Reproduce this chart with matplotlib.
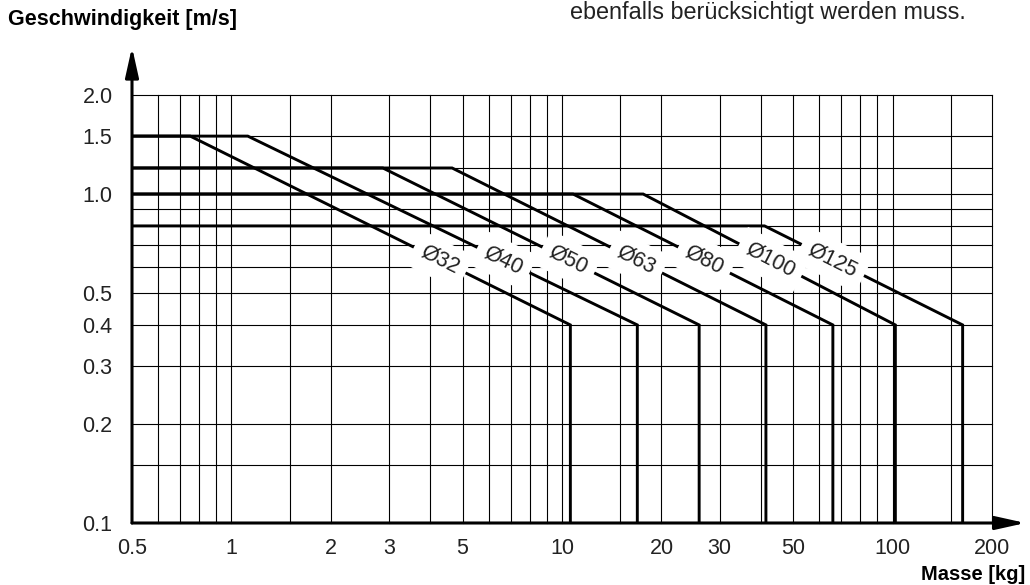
import numpy as np
import matplotlib
matplotlib.use('Agg')
import matplotlib.pyplot as plt
from matplotlib.ticker import NullLocator

plt.rcParams['font.family'] = ['Liberation Sans', 'DejaVu Sans']

# cylinder sizes and their speed/mass limits
labels = ['Ø32', 'Ø40', 'Ø50', 'Ø63', 'Ø80', 'Ø100', 'Ø125']
v_max = [1.5, 1.5, 1.2, 1.2, 1.0, 1.0, 0.8]          # m/s, flat part
m_knee = [0.75, 1.12, 2.87, 4.65, 10.8, 17.6, 41.0]  # kg, where it starts falling
m_end = [10.6, 16.9, 26.0, 41.4, 66.0, 102.0, 163.0] # kg, at v = 0.4
v_end = 0.4
v_min = 0.1

x_ticks = [0.5, 1, 2, 3, 5, 10, 20, 30, 50, 100, 200]
x_ticklabels = ['0.5', '1', '2', '3', '5', '10', '20', '30', '50', '100', '200']
y_ticks = [0.1, 0.2, 0.3, 0.4, 0.5, 1.0, 1.5, 2.0]
y_ticklabels = ['0.1', '0.2', '0.3', '0.4', '0.5', '1.0', '1.5', '2.0']

x_grid = [0.6, 0.7, 0.8, 0.9, 1, 1.5, 2, 3, 4, 5, 6, 7, 8, 9, 10, 15, 20, 30,
          40, 50, 60, 70, 80, 90, 100, 150, 200]
y_grid = [0.15, 0.2, 0.3, 0.4, 0.5, 0.6, 0.7, 0.8, 0.9, 1.0, 1.2, 1.5, 2.0]

fig = plt.figure(figsize=(10.3, 5.85), dpi=100)
ax = fig.add_axes([132 / 1030, 1 - 523 / 585, 860 / 1030, 428 / 585])
ax.set_xscale('log')
ax.set_yscale('log')
ax.set_xlim(0.5, 200)
ax.set_ylim(0.1, 2.0)
for s in ax.spines.values():
    s.set_visible(False)

ax.xaxis.set_minor_locator(NullLocator())
ax.yaxis.set_minor_locator(NullLocator())
ax.set_xticks(x_ticks)
ax.set_xticklabels(x_ticklabels)
ax.set_yticks(y_ticks)
ax.set_yticklabels(y_ticklabels)
ax.tick_params(axis='x', length=0, pad=11, labelsize=15.5, labelcolor='#222222')
ax.tick_params(axis='y', length=0, pad=14, labelsize=15.5, labelcolor='#222222')

# grid
for gx in x_grid:
    ax.axvline(gx, color='black', lw=0.8, zorder=1, clip_on=False)
for gy in y_grid:
    ax.axhline(gy, color='black', lw=0.8, zorder=1, clip_on=False)

# axes with arrows
arr = dict(arrowstyle='-|>,head_length=0.9,head_width=0.2', lw=2.2,
           color='black', mutation_scale=20, shrinkA=0, shrinkB=0)
ax.annotate('', xy=(0, 1.112), xytext=(0, 0), xycoords='axes fraction',
            arrowprops=arr, annotation_clip=False, zorder=5)
ax.annotate('', xy=(1.039, 0), xytext=(0, 0), xycoords='axes fraction',
            arrowprops=arr, annotation_clip=False, zorder=5)

# curves
v_lab = 0.63
for i in range(len(labels)):
    xs = [0.5, m_knee[i], m_end[i], m_end[i]]
    ys = [v_max[i], v_max[i], v_end, v_min]
    ax.plot(xs, ys, color='black', lw=2.1, zorder=3, solid_joinstyle='miter')

    f = np.log(v_max[i] / v_lab) / np.log(v_max[i] / v_end)
    m_lab = m_knee[i] * (m_end[i] / m_knee[i]) ** f
    p1 = ax.transData.transform((m_knee[i], v_max[i]))
    p2 = ax.transData.transform((m_end[i], v_end))
    ang = np.degrees(np.arctan2(p2[1] - p1[1], p2[0] - p1[0]))
    ax.text(m_lab, v_lab, labels[i], rotation=ang, rotation_mode='anchor',
            ha='center', va='center', fontsize=15.5, color='#222222', zorder=4,
            bbox=dict(boxstyle='square,pad=0.4', fc='white', ec='none'))

fig.text(8 / 1030, 1 - 20 / 585, 'Geschwindigkeit [m/s]', ha='left', va='center',
         fontsize=15.5, fontweight='bold')
fig.text(1025 / 1030, 1 - 574 / 585, 'Masse [kg]', ha='right', va='center',
         fontsize=14.5, fontweight='bold')
fig.text(570 / 1030, 1 - 12 / 585, 'ebenfalls berücksichtigt werden muss.',
         ha='left', va='center', fontsize=16.8, color='#222222')

fig.savefig('out.png', dpi=100)
